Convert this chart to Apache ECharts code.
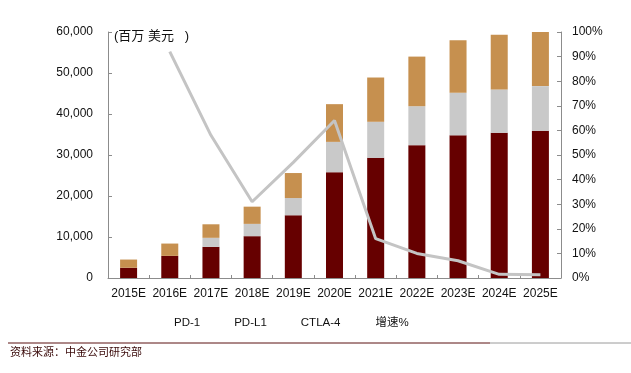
<!DOCTYPE html>
<html>
<head>
<meta charset="utf-8">
<script src="https://cdn.jsdelivr.net/npm/echarts@6/dist/echarts.min.js"></script>
<style>
html,body{margin:0;padding:0;background:#fff;}
#c{width:631px;height:373px;}
</style>
</head>
<body>
<div id="c"></div>
<script>
const categories = ['2015E','2016E','2017E','2018E','2019E','2020E','2021E','2022E','2023E','2024E','2025E'];
const pd1 = [2500, 5400, 7600, 10200, 15300, 25800, 29300, 32400, 34800, 35400, 35900];
const pdl1 = [0, 0, 2200, 3000, 4200, 7400, 8800, 9500, 10400, 10600, 10900];
const ctla4 = [2000, 3000, 3300, 4200, 6100, 9200, 10800, 12100, 12800, 13300, 13200];
const growth = [null, 92, 58, 31, 47, 64, 16, 10, 7, 1.5, 1.3];
const seriesNames = ['PD-1', 'PD-L1', 'CTLA-4', '增速%'];
const unitLabel = '(百万 美元   )';
const sourceText = '资料来源：中金公司研究部';

const font = '"Liberation Sans", Arial, "Noto Sans CJK SC", sans-serif';
const chart = echarts.init(document.getElementById('c'), null, {renderer: 'canvas'});
const axisLine = {show: true, lineStyle: {color: '#8c8c8c', width: 1}};
chart.setOption({
  animation: false,
  backgroundColor: '#fff',
  textStyle: {fontFamily: font},
  grid: {left: 108, right: 70, top: 32, bottom: 95, containLabel: false},
  legend: {
    data: seriesNames,
    left: 164, top: 312,
    itemWidth: 0, itemHeight: 0, itemGap: 29,
    textStyle: {fontSize: 11.5, color: '#111', fontFamily: font}
  },
  title: {
    text: unitLabel, left: 109, top: 25,
    textStyle: {fontSize: 13, fontWeight: 'normal', color: '#111', fontFamily: font}
  },
  xAxis: {
    type: 'category', data: categories,
    axisLine: axisLine,
    axisTick: {show: true, inside: true, length: 3, lineStyle: {color: '#8c8c8c'}},
    axisLabel: {fontSize: 12, color: '#111', margin: 10, interval: 0}
  },
  yAxis: [{
    type: 'value', min: 0, max: 60000, interval: 10000,
    axisLine: axisLine,
    axisTick: {show: true, inside: true, length: 4, lineStyle: {color: '#8c8c8c'}},
    splitLine: {show: false},
    axisLabel: {fontSize: 12, color: '#111', margin: 15,
      formatter: v => v.toLocaleString('en-US')}
  }, {
    type: 'value', min: 0, max: 100, interval: 10, position: 'right',
    axisLine: axisLine,
    axisTick: {show: true, inside: true, length: 4, lineStyle: {color: '#8c8c8c'}},
    splitLine: {show: false},
    axisLabel: {fontSize: 12, color: '#111', margin: 11, formatter: '{value}%'}
  }],
  series: [
    {name: seriesNames[0], type: 'bar', stack: 's', data: pd1, barWidth: 17,
     itemStyle: {color: '#660000'}},
    {name: seriesNames[1], type: 'bar', stack: 's', data: pdl1, barWidth: 17,
     itemStyle: {color: '#c9c9c9'}},
    {name: seriesNames[2], type: 'bar', stack: 's', data: ctla4, barWidth: 17,
     itemStyle: {color: '#c6904f'}},
    {name: seriesNames[3], type: 'line', yAxisIndex: 1, data: growth,
     symbol: 'none', smooth: false,
     lineStyle: {color: '#c4c4c4', width: 3},
     itemStyle: {color: '#c4c4c4'}}
  ],
  graphic: [
    {type: 'line', shape: {x1: 8, y1: 343, x2: 490, y2: 343}, style: {stroke: '#5a1010', lineWidth: 1}},
    {type: 'line', shape: {x1: 490, y1: 343, x2: 631, y2: 343}, style: {stroke: '#9a9a9a', lineWidth: 1}},
    {type: 'text', left: 10, top: 346, style: {text: sourceText, fontSize: 11, fill: '#3a0a0a', fontFamily: '"Noto Sans CJK SC", sans-serif'}}
  ]
});
</script>
</body>
</html>
